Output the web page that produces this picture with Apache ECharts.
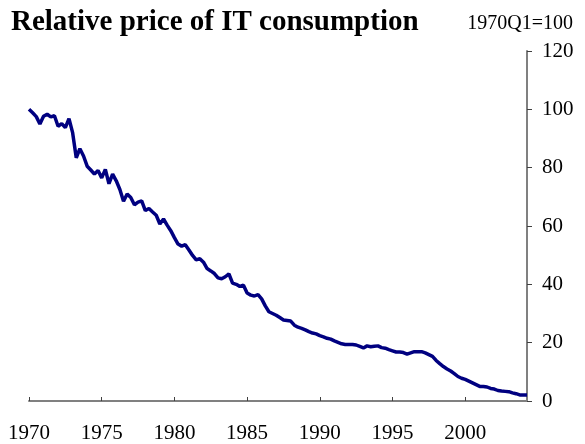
<!DOCTYPE html>
<html>
<head>
<meta charset="utf-8">
<script src="https://cdn.jsdelivr.net/npm/echarts@6/dist/echarts.min.js"></script>
<style>
html, body { margin: 0; padding: 0; background: #fff; }
#chart { width: 585px; height: 444px; }
</style>
</head>
<body>
<div id="chart"></div>
<script>
// quarterly index, 1970Q1 = 100
var startYear = 1970;
var priceIndex = [
  100, 98.8, 97.5, 95.0,    // 1970
  97.6, 98.3, 97.4, 97.8,   // 1971
  94.2, 95.1, 93.7, 96.8,   // 1972
  92.0, 83.4, 86.5, 84.0,   // 1973
  80.5, 79.2, 77.8, 79.0,   // 1974
  76.5, 79.4, 74.5, 77.8,   // 1975
  75.5, 72.5, 68.5, 71.0,   // 1976
  69.8, 67.3, 68.2, 68.6,   // 1977
  65.3, 66.0, 64.8, 63.7,   // 1978
  60.7, 62.4, 60.3, 58.4,   // 1979
  56.0, 53.8, 53.1, 53.6,   // 1980
  51.8, 49.9, 48.4, 48.8,   // 1981
  47.6, 45.4, 44.6, 43.7,   // 1982
  42.2, 41.9, 42.6, 43.6,   // 1983
  40.4, 40.0, 39.3, 39.7,   // 1984
  37.0, 36.3, 36.0, 36.5,   // 1985
  35.0, 32.6, 30.6, 30.0,   // 1986
  29.4, 28.6, 27.8, 27.6,   // 1987
  27.4, 26.0, 25.3, 24.9,   // 1988
  24.4, 23.8, 23.3, 23.0,   // 1989
  22.4, 22.0, 21.5, 21.2,   // 1990
  20.6, 20.1, 19.6, 19.4,   // 1991
  19.4, 19.4, 19.2, 18.7,   // 1992
  18.2, 18.9, 18.6, 18.8,   // 1993
  18.9, 18.3, 18.1, 17.6,   // 1994
  17.2, 16.8, 16.8, 16.6,   // 1995
  16.1, 16.5, 16.9, 16.9,   // 1996
  16.9, 16.5, 15.9, 15.3,   // 1997
  13.9, 12.8, 11.8, 11.0,   // 1998
  10.3, 9.4, 8.4, 7.8,      // 1999
  7.4, 6.8, 6.2, 5.6,       // 2000
  5.0, 5.0, 4.8, 4.3,       // 2001
  4.1, 3.6, 3.4, 3.3,       // 2002
  3.2, 2.8, 2.5, 2.1,       // 2003
  2.1, 2.1                  // 2004
];
var yTicks = [0, 20, 40, 60, 80, 100, 120];
var titleText = 'Relative price of IT consumption';
var baseText = '1970Q1=100';

var seriesData = [];
for (var i = 0; i < priceIndex.length; i++) {
  seriesData.push([startYear + i / 4, priceIndex[i]]);
}
var lastX = startYear + (priceIndex.length - 1) / 4;

var serif = 'Liberation Serif';
var myChart = echarts.init(document.getElementById('chart'));

myChart.setOption({
  animation: false,
  backgroundColor: '#fff',
  title: [
    { text: titleText, left: 6, top: 3,
      textStyle: { fontFamily: serif, fontWeight: 'bold', fontSize: 29, color: '#000' } },
    { text: baseText, right: 7, top: 9,
      textStyle: { fontFamily: serif, fontWeight: 'normal', fontSize: 20, color: '#000' } }
  ],
  grid: { left: 29, right: 58, top: 51, bottom: 40 },
  xAxis: {
    type: 'value',
    min: startYear,
    max: lastX,
    interval: 5,
    axisLine: { lineStyle: { color: '#808080', width: 2 } },
    axisTick: { inside: true, length: 4, lineStyle: { color: '#404040', width: 1 } },
    splitLine: { show: false },
    axisLabel: {
      fontFamily: serif, fontSize: 21, color: '#000', margin: 22,
      showMaxLabel: false,
      formatter: function (v) { return v % 5 === 0 ? String(v) : ''; }
    }
  },
  yAxis: {
    type: 'value',
    position: 'right',
    min: yTicks[0],
    max: yTicks[yTicks.length - 1],
    interval: 20,
    axisLine: { show: true, lineStyle: { color: '#808080', width: 2 } },
    axisTick: { show: true, length: 5, lineStyle: { color: '#404040', width: 1 } },
    splitLine: { show: false },
    axisLabel: { fontFamily: serif, fontSize: 21, color: '#000', margin: 15 }
  },
  series: [{
    type: 'line',
    data: seriesData,
    showSymbol: false,
    symbol: 'none',
    lineStyle: { color: '#000080', width: 3.5 },
    itemStyle: { color: '#000080' }
  }]
});
</script>
</body>
</html>
